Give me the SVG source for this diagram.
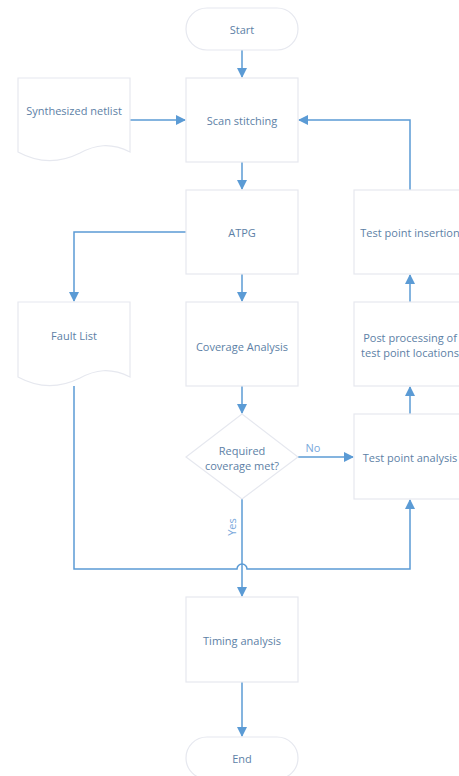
<svg xmlns="http://www.w3.org/2000/svg" width="459" height="776" viewBox="0 0 459 776">
<defs>
<marker id="arr" markerWidth="10" markerHeight="10" refX="9" refY="5" orient="auto" markerUnits="userSpaceOnUse">
<path d="M0,0 L10,5 L0,10 Z" fill="#5b9bd5"/>
</marker>
<style>
.node{fill:#ffffff;stroke:#e6e8ef;stroke-width:1.2}
.t{font-family:"Open Sans","Liberation Sans",sans-serif;font-size:11px;fill:#5d7fa6;text-anchor:middle;dominant-baseline:central}
.c{fill:none;stroke:#5b9bd5;stroke-width:1.5}
.lbl{font-family:"Open Sans","Liberation Sans",sans-serif;font-size:11px;fill:#79a8db;text-anchor:middle;dominant-baseline:central}
</style>
</defs>
<rect width="459" height="776" fill="#ffffff"/>
<g id="connectors">
<path class="c" d="M242,50 V77" marker-end="url(#arr)"/>
<path class="c" d="M130,120 H185" marker-end="url(#arr)"/>
<path class="c" d="M242,162 V189" marker-end="url(#arr)"/>
<path class="c" d="M410,190 V120 H299" marker-end="url(#arr)"/>
<path class="c" d="M186,232 H74 V301" marker-end="url(#arr)"/>
<path class="c" d="M242,274 V301" marker-end="url(#arr)"/>
<path class="c" d="M410,302 V275" marker-end="url(#arr)"/>
<path class="c" d="M242,386 V413" marker-end="url(#arr)"/>
<path class="c" d="M410,414 V387" marker-end="url(#arr)"/>
<path class="c" d="M298,457 H353" marker-end="url(#arr)"/>
<path class="c" d="M242,499 V596" marker-end="url(#arr)"/>
<path class="c" d="M74,386 V569 H237 A5,5 0 0 1 247,569 H410 V500" marker-end="url(#arr)"/>
<path class="c" d="M242,682 V736" marker-end="url(#arr)"/>
<text class="lbl" x="313" y="447">No</text>
<text class="lbl" x="231" y="527" transform="rotate(-90 231 527)">Yes</text>
</g>
<g id="start"><rect class="node" x="186" y="8" width="112" height="42" rx="21"/><text class="t" x="242" y="29">Start</text></g>
<g id="netlist"><path class="node" d="M18,78 H130 V152 C110,142 95,145 80,153 C62,162 40,164 18,152 Z"/><text class="t" x="74" y="110">Synthesized netlist</text></g>
<g id="scan"><rect class="node" x="186" y="78" width="112" height="84"/><text class="t" x="242" y="120">Scan stitching</text></g>
<g id="atpg"><rect class="node" x="186" y="190" width="112" height="84"/><text class="t" x="242" y="232">ATPG</text></g>
<g id="tpi"><rect class="node" x="354" y="190" width="112" height="84"/><text class="t" x="410" y="232">Test point insertion</text></g>
<g id="fault"><path class="node" d="M18,302 H130 V377 C110,367 95,370 80,378 C62,387 40,389 18,377 Z"/><text class="t" x="74" y="335">Fault List</text></g>
<g id="coverage"><rect class="node" x="186" y="302" width="112" height="84"/><text class="t" x="242" y="346">Coverage Analysis</text></g>
<g id="post"><rect class="node" x="354" y="302" width="112" height="84"/><text class="t" x="410" y="337">Post processing of</text><text class="t" x="410" y="352">test point locations</text></g>
<g id="decision"><path class="node" d="M242,414 L298,457 L242,499 L186,457 Z"/><text class="t" x="242" y="450">Required</text><text class="t" x="242" y="465">coverage met?</text></g>
<g id="tpa"><rect class="node" x="354" y="414" width="112" height="85"/><text class="t" x="410" y="457">Test point analysis</text></g>
<g id="timing"><rect class="node" x="186" y="597" width="112" height="85"/><text class="t" x="242" y="640">Timing analysis</text></g>
<g id="end"><rect class="node" x="186" y="737" width="112" height="42" rx="21"/><text class="t" x="242" y="758">End</text></g>
</svg>
